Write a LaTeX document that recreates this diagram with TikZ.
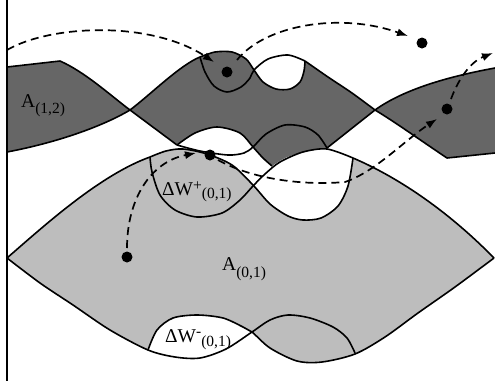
\documentclass[tikz,border=0pt]{standalone}
\usepackage{fontspec}
\setmainfont{Liberation Serif}
\usetikzlibrary{arrows.meta}
\definecolor{darkfill}{gray}{0.40}
\definecolor{lightfill}{gray}{0.74}
\newcommand\mysub[2][-6pt]{\raisebox{#1}{\fontsize{15.5}{15.5}\selectfont #2}}
\begin{document}
\begin{tikzpicture}[x=1pt,y=-1pt,
  edge/.style={line width=1.6pt, line join=round},
  traj/.style={line width=1.7pt, dash pattern=on 8pt off 5pt},
  tip/.style={-{Latex[length=11pt,width=8pt]}},
  dotnode/.style={circle, fill=black, inner sep=0pt, minimum size=11pt},
  lbl/.style={font=\fontsize{19.5}{19.5}\selectfont, inner sep=0pt, anchor=base west}]
\useasboundingbox (0,0) rectangle (495,381);
\fill[white] (0,0) rectangle (495,381);

% ---------- gray region A(0,1) ----------
\fill[lightfill]
  (7,258) .. controls (45,225) and (100,175) .. (150,157)
  -- plot[smooth] coordinates {(150,157) (166,151) (183,149) (207,154) (232,165) (253,185) (270,204) (288,216) (303,220) (321,218) (338,206) (348,186) (353,158)}
  .. controls (395,176) and (445,208) .. (494,258)
  -- plot[smooth] coordinates {(494,258) (455,287) (418,313) (385,337) (355,354) (322,362) (297,361) (270,348) (252,332)}
  -- plot[smooth] coordinates {(252,332) (243,327) (223,318) (197,315) (173,318) (157,330) (148,350)}
  -- plot[smooth] coordinates {(148,350) (110,330) (73,305) (40,283) (7,258)}
  -- cycle;

% ---------- dark region A(1,2) ----------
\fill[darkfill] (7,67) -- (60,61) .. controls (85,72) and (110,95) .. (130,110)
  .. controls (105,125) and (60,142) .. (7,152) -- cycle;
\fill[darkfill] (375,110) .. controls (400,92) and (440,78) .. (495,68)
  -- (495,153) -- (447,158) .. controls (420,140) and (395,122) .. (375,110) -- cycle;
\fill[darkfill] (130,110) .. controls (150,95) and (180,65) .. (200,57)
  -- plot[smooth] coordinates {(200,57) (215,52) (232,52) (246,59) (254,70) (263,82) (276,89) (290,89) (300,82) (304,71) (305,61)}
  -- plot[smooth] coordinates {(305,61) (328,77) (352,93) (375,110)}
  -- (327,148)
  -- plot[smooth] coordinates {(327,148) (303,152) (285,158) (272,166)}
  -- plot[smooth] coordinates {(272,166) (263,158) (253,147) (240,133) (217,127) (195,133) (177,145)}
  -- cycle;

% ---------- outlines ----------
\draw[edge] (7,0) -- (7,381);
\draw[edge] (7,67) -- (60,61) .. controls (85,72) and (110,95) .. (130,110) -- (177,145);
\draw[edge] (7,152) .. controls (60,142) and (105,125) .. (130,110) .. controls (150,95) and (180,65) .. (200,57);
\draw[edge] plot[smooth] coordinates {(200,57) (215,52) (232,52) (246,59) (254,70) (263,82) (276,89) (290,89) (300,82) (304,71) (305,61)};
\draw[edge] plot[smooth] coordinates {(200,57) (205,72) (214,86) (227,92) (241,87) (250,78) (254,70) (268,59) (288,55) (305,61)};
\draw[edge] plot[smooth] coordinates {(305,61) (328,77) (352,93) (375,110)};
\draw[edge] (375,110) .. controls (400,92) and (440,78) .. (495,68);
\draw[edge] (375,110) .. controls (395,122) and (420,140) .. (447,158) -- (495,153);
\draw[edge] (327,148) -- (375,110);
\draw[edge] plot[smooth] coordinates {(177,145) (195,133) (217,127) (240,133) (253,147) (263,158) (272,166)};
\draw[edge] plot[smooth] coordinates {(177,145) (200,151) (228,155) (244,153) (253,147) (266,134) (285,125) (305,127) (318,135) (327,148)};
\draw[edge] plot[smooth] coordinates {(150,157) (152,172) (160,195) (175,210) (197,217) (222,213) (240,200) (253,186) (265,174) (280,162) (303,152) (327,149) (353,158)};
\draw[edge] plot[smooth] coordinates {(150,157) (166,151) (183,149) (207,154) (232,165) (253,185) (270,204) (288,216) (303,220) (321,218) (338,206) (348,186) (353,158)};
\draw[edge] (7,258) .. controls (45,225) and (100,175) .. (150,157);
\draw[edge] (353,158) .. controls (395,176) and (445,208) .. (494,258);
\draw[edge] plot[smooth] coordinates {(494,258) (455,287) (418,313) (385,337) (355,354) (322,362) (297,361) (270,348) (252,332) (243,327) (223,318) (197,315) (173,318) (157,330) (148,350)};
\draw[edge] plot[smooth] coordinates {(7,258) (40,283) (73,305) (110,330) (148,350) (175,357) (200,358) (226,349) (252,332) (270,320) (288,315) (310,318) (333,327) (347,338) (355,353)};

% ---------- trajectories ----------
\node[dotnode] (d1) at (227,72) {};
\node[dotnode] (d2) at (422,43) {};
\node[dotnode] (d3) at (127,257) {};
\node[dotnode] (d4) at (210,155) {};
\node[dotnode] (d5) at (447,109) {};
\coordinate (s0) at (7,50);
\coordinate (e0) at (493,53);

\draw[traj,tip] (s0) .. controls (50,25) and (150,20) .. (214,62);
\draw[traj,tip] (d1) ++(10,-12) .. controls (265,25) and (340,12) .. (408,36);
\draw[traj,tip] (d3) ++(0,-9) .. controls (127,200) and (150,162) .. (196,153);
\draw[traj,tip] (d4) ++(8,5) .. controls (250,178) and (300,186) .. (345,182)
   .. controls (375,172) and (405,140) .. (437,119);
\draw[traj,tip] (d5) ++(4,-10) .. controls (458,80) and (470,62) .. (e0);

% ---------- labels ----------
\node[lbl] (la12) at (21,107) {A\mysub{(1,2)}};
\node[lbl] (la01) at (222,270) {A\mysub[-7pt]{(0,1)}};
\node[lbl] (lwp) at (162,195) {ΔW\mysub[5pt]{+}\mysub[-3pt]{(0,1)}};
\node[lbl] (lwm) at (165,342) {ΔW\mysub[6pt]{-}\mysub[-4pt]{(0,1)}};
\end{tikzpicture}
\end{document}
